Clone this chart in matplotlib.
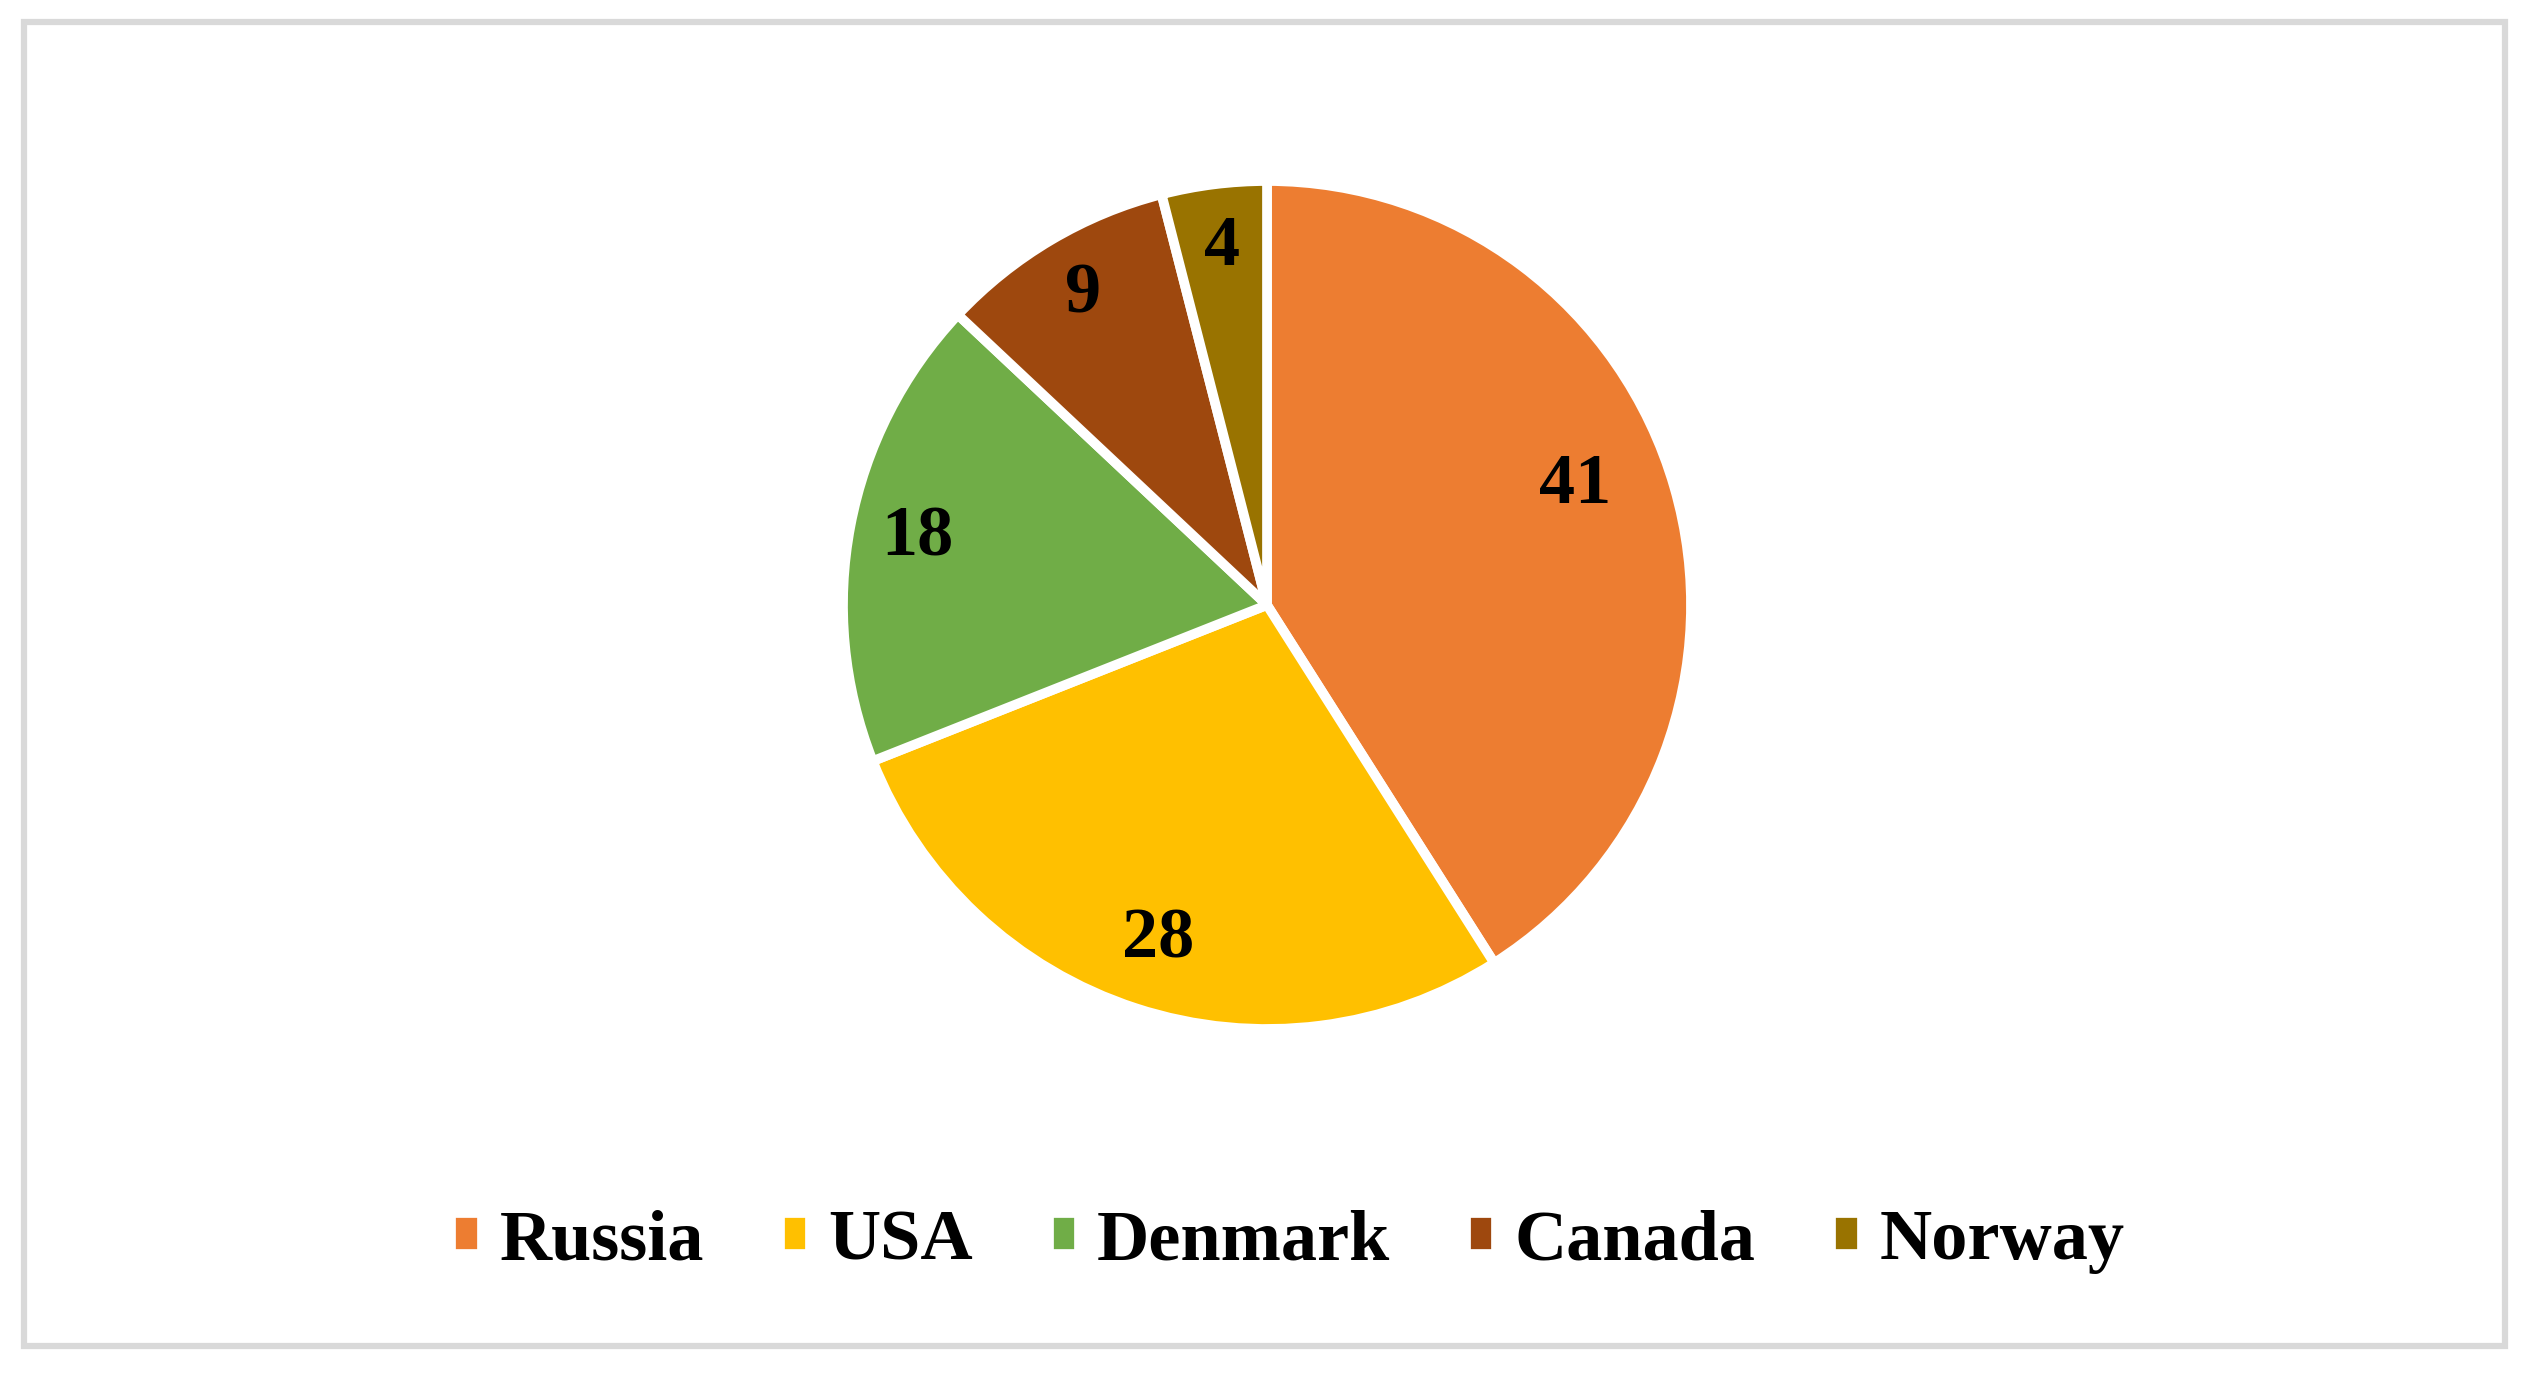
import numpy as np
import matplotlib.pyplot as plt
from matplotlib.patches import Rectangle

countries = ["Russia", "USA", "Denmark", "Canada", "Norway"]
values = [41, 28, 18, 9, 4]
colors = ["#ED7D31", "#FFC000", "#70AD47", "#9E480E", "#997300"]

W, H = 2530, 1374
plt.rcParams["font.family"] = ["Liberation Serif", "DejaVu Serif"]
plt.rcParams["font.weight"] = "bold"

fig = plt.figure(figsize=(W / 100, H / 100), dpi=100)
fig.patch.set_facecolor("white")

# outer frame
fig.add_artist(Rectangle((24 / W, 1 - 1346 / H), (2505 - 24) / W, (1346 - 22) / H,
                         transform=fig.transFigure, fill=False,
                         edgecolor="#D9D9D9", linewidth=4.5))

# pie axes: centre (1267, 605) px, radius 424 px
cx, cy, r = 1267, 605, 424
ax = fig.add_axes([(cx - r) / W, (H - cy - r) / H, 2 * r / W, 2 * r / H])
wedges, _ = ax.pie(values, colors=colors, startangle=90, counterclock=False,
                   radius=1.0,
                   wedgeprops=dict(edgecolor="white", linewidth=7,
                                   joinstyle="round"))
ax.set_xlim(-1, 1)
ax.set_ylim(-1, 1)
ax.axis("off")

# data labels
angle_shift = [5, 0, 0, 0, 0]
label_r = [0.78, 0.83, 0.84, 0.85, 0.85]
for w, v, da, lr in zip(wedges, values, angle_shift, label_r):
    mid = np.deg2rad((w.theta1 + w.theta2) / 2 + da)
    ax.text(lr * np.cos(mid), lr * np.sin(mid), str(v), ha="center", va="center",
            fontsize=52, fontweight="bold", color="black")

fig.legend(wedges, countries, loc="center", bbox_to_anchor=(1288 / W, 1 - 1242 / H),
           ncol=5, frameon=False, fontsize=52, handlelength=0.42, handleheight=0.5,
           handletextpad=0.25, columnspacing=1.05, borderaxespad=0)

fig.savefig("out.png", dpi=100, facecolor="white")
